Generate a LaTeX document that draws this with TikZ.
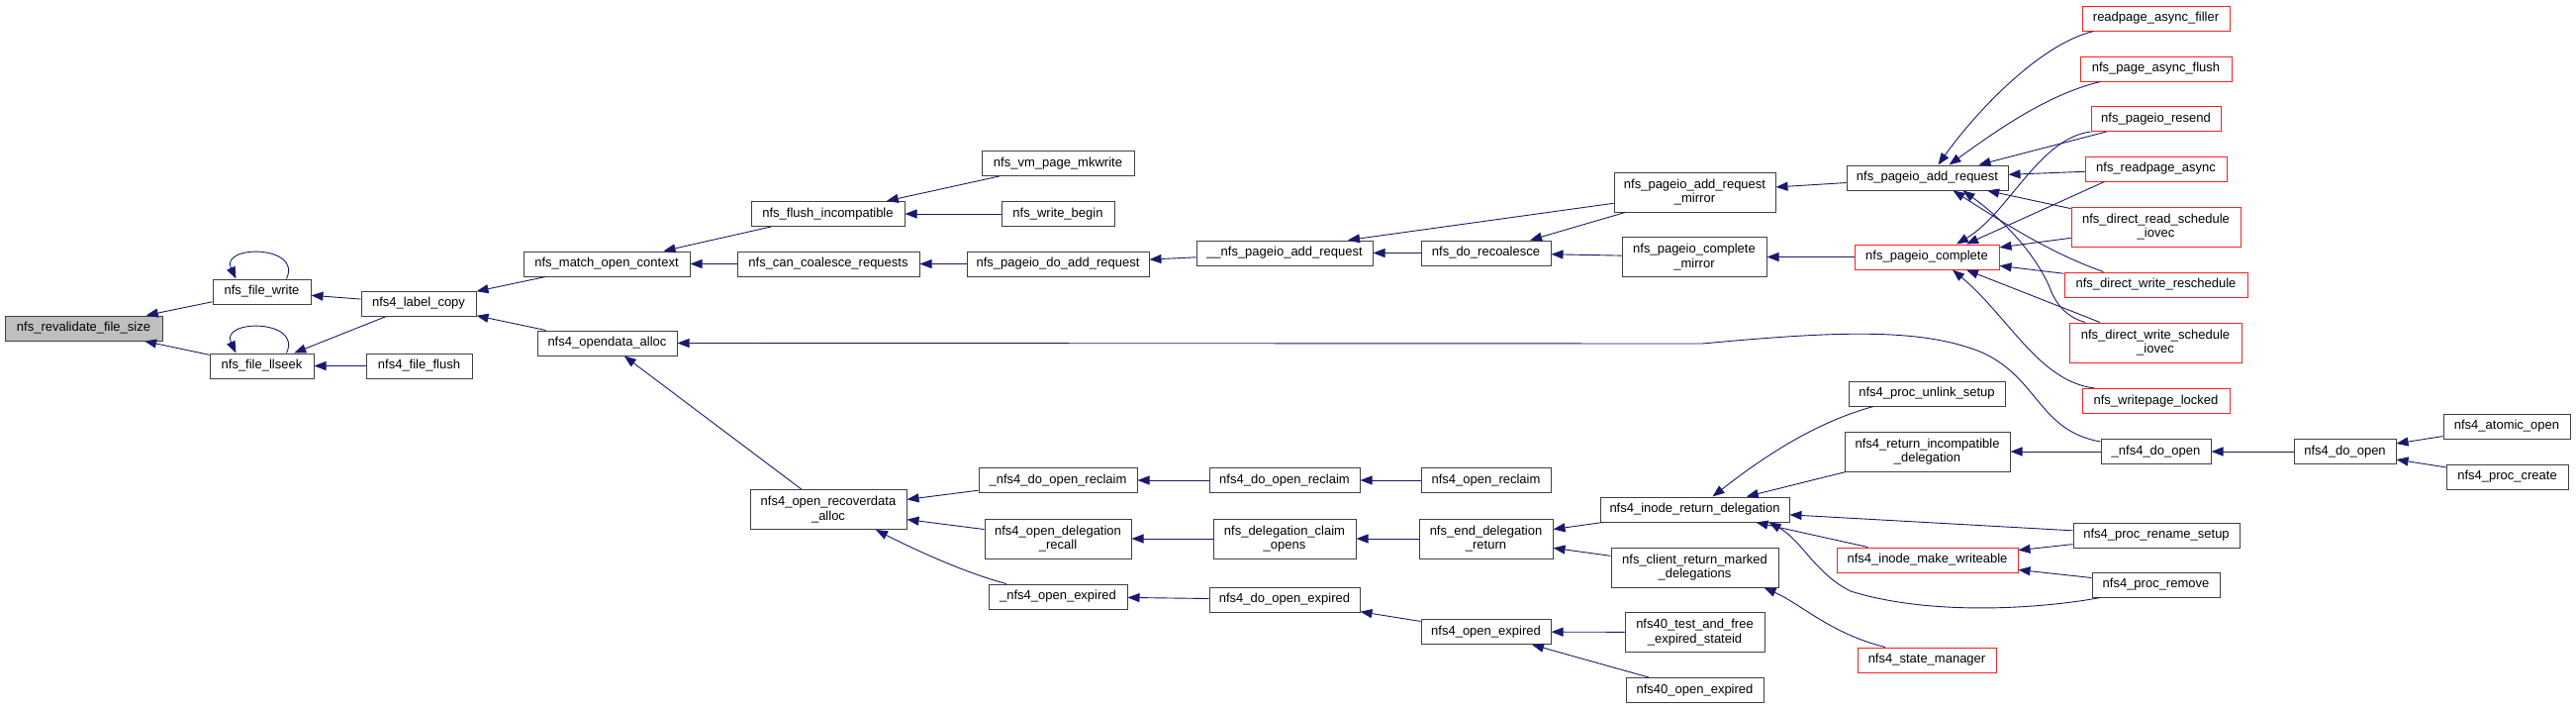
\documentclass[tikz,border=0pt]{standalone}
\usepackage{fontspec}
\usetikzlibrary{arrows.meta}
\newfontfamily\doxfont{Liberation Sans}
\definecolor{dxblue}{HTML}{191970}
\definecolor{dxgray}{HTML}{404040}
\definecolor{dxred}{HTML}{FF2020}
\definecolor{dxfill}{HTML}{BFBFBF}

\begin{document}
\begin{tikzpicture}[
  x=1pt, y=-1pt,
  fn/.style={draw=dxgray, line width=1pt, fill=white, inner sep=0pt,
             font=\doxfont\fontsize{13}{14.7}\selectfont, align=center,
             minimum height=25pt, text=black},
  fntwo/.style={fn, minimum height=40pt},
  trunc/.style={draw=dxred},
  rootfn/.style={fill=dxfill},
  call/.style={{Triangle[length=12pt,width=9pt]}-, draw=dxblue, line width=0.9pt},
]
\useasboundingbox (0,0) rectangle (2603,716);

%% Funcion analizada
\node[fn, rootfn, minimum width=159pt] (revalidate) at (84.5,331.5) {nfs\_revalidate\_file\_size};

%% Llamadores directos
\node[fn, minimum width=99pt]  (filewrite)  at (264.5,294.5) {nfs\_file\_write};
\node[fn, minimum width=105pt] (filellseek) at (264.5,369.5) {nfs\_file\_llseek};

\node[fn, minimum width=116pt] (labelcopy) at (423,306.5)   {nfs4\_label\_copy};
\node[fn, minimum width=107pt] (fileflush) at (423.5,369.5) {nfs4\_file\_flush};

\node[fn, minimum width=168pt] (matchctx) at (613,266.5)   {nfs\_match\_open\_context};
\node[fn, minimum width=141pt] (opendata) at (613.5,346.5) {nfs4\_opendata\_alloc};

\node[fn, minimum width=155pt]    (flushincompat) at (836.5,216) {nfs\_flush\_incompatible};
\node[fn, minimum width=184pt]    (cancoalesce)   at (837,266.5) {nfs\_can\_coalesce\_requests};
\node[fntwo, minimum width=158pt] (recoverdata)   at (837,514.5) {nfs4\_open\_recoverdata\\\_alloc};

\node[fn, minimum width=154pt]    (vmmkwrite)    at (1069,165)   {nfs\_vm\_page\_mkwrite};
\node[fn, minimum width=114pt]    (writebegin)   at (1069,216)   {nfs\_write\_begin};
\node[fn, minimum width=184pt]    (doaddreq)     at (1069,266.5) {nfs\_pageio\_do\_add\_request};
\node[fn, minimum width=160pt]    (doreclaimu)   at (1069,485)   {\_nfs4\_do\_open\_reclaim};
\node[fntwo, minimum width=148pt] (delegrecall)  at (1069,544)   {nfs4\_open\_delegation\\\_recall};
\node[fn, minimum width=140pt]    (openexpiredu) at (1069,602.5) {\_nfs4\_open\_expired};

\node[fn, minimum width=178pt]    (addrequ)    at (1298,255.5) {\_\_nfs\_pageio\_add\_request};
\node[fn, minimum width=152pt]    (doreclaim)  at (1298,485)   {nfs4\_do\_open\_reclaim};
\node[fntwo, minimum width=144pt] (claimopens) at (1298,544)   {nfs\_delegation\_claim\\\_opens};
\node[fn, minimum width=152pt]    (doopenexp)  at (1298,605.5) {nfs4\_do\_open\_expired};

\node[fn, minimum width=131pt]    (recoalesce)  at (1501.5,255.5) {nfs\_do\_recoalesce};
\node[fn, minimum width=131pt]    (openreclaim) at (1501.5,485)   {nfs4\_open\_reclaim};
\node[fntwo, minimum width=135pt] (enddeleg)    at (1501.5,544)   {nfs\_end\_delegation\\\_return};
\node[fn, minimum width=131pt]    (openexpired) at (1501.5,638)   {nfs4\_open\_expired};

\node[fntwo, minimum width=163pt] (addmirror)  at (1712.5,194)   {nfs\_pageio\_add\_request\\\_mirror};
\node[fntwo, minimum width=146pt] (compmirror) at (1712,259.5)   {nfs\_pageio\_complete\\\_mirror};
\node[fn, minimum width=191pt]    (inoderet)   at (1712.5,514.5) {nfs4\_inode\_return\_delegation};
\node[fntwo, minimum width=169pt] (clientret)  at (1712.5,573)   {nfs\_client\_return\_marked\\\_delegations};
\node[fntwo, minimum width=141pt] (testfree)   at (1712.5,638.5) {nfs40\_test\_and\_free\\\_expired\_stateid};
\node[fn, minimum width=139pt]    (open40)     at (1712.5,697)   {nfs40\_open\_expired};

\node[fn, minimum width=163pt]        (addreq)      at (1947.5,179.5) {nfs\_pageio\_add\_request};
\node[fn, trunc, minimum width=146pt] (complete)    at (1947,259.5)   {nfs\_pageio\_complete};
\node[fn, minimum width=158pt]        (unlinksetup) at (1947,397.5)   {nfs4\_proc\_unlink\_setup};
\node[fntwo, minimum width=167pt]     (retincompat) at (1947.5,456)   {nfs4\_return\_incompatible\\\_delegation};
\node[fn, trunc, minimum width=183pt] (makewrite)   at (1947.5,565.5) {nfs4\_inode\_make\_writeable};
\node[fn, trunc, minimum width=140pt] (statemgr)    at (1947,666.5)   {nfs4\_state\_manager};

%% Llamadores truncados (borde rojo) y resto
\node[fn, trunc, minimum width=149pt]    (filler)       at (2178.5,18.5)  {readpage\_async\_filler};
\node[fn, trunc, minimum width=153pt]    (asyncflush)   at (2178.5,69.5)  {nfs\_page\_async\_flush};
\node[fn, trunc, minimum width=131pt]    (resend)       at (2178.5,120)   {nfs\_pageio\_resend};
\node[fn, trunc, minimum width=143pt]    (readasync)    at (2178.5,170.5) {nfs\_readpage\_async};
\node[fntwo, trunc, minimum width=171pt] (readsched)    at (2178.5,229)   {nfs\_direct\_read\_schedule\\\_iovec};
\node[fn, trunc, minimum width=185pt]    (writeresched) at (2178.5,287.5) {nfs\_direct\_write\_reschedule};
\node[fntwo, trunc, minimum width=174pt] (writesched)   at (2178,346)     {nfs\_direct\_write\_schedule\\\_iovec};
\node[fn, trunc, minimum width=149pt]    (writepage)    at (2178.5,405)   {nfs\_writepage\_locked};
\node[fn, minimum width=111pt]           (doopenu)      at (2178.5,456)   {\_nfs4\_do\_open};
\node[fn, minimum width=168pt]           (renamesetup)  at (2179,540.5)   {nfs4\_proc\_rename\_setup};
\node[fn, minimum width=129pt]           (procremove)   at (2178.5,590.5) {nfs4\_proc\_remove};

\node[fn, minimum width=103pt] (doopen)     at (2369.5,456)   {nfs4\_do\_open};
\node[fn, minimum width=128pt] (atomicopen) at (2533,430.5)   {nfs4\_atomic\_open};
\node[fn, minimum width=123pt] (proccreate) at (2533.5,481.5) {nfs4\_proc\_create};

%% Llamadas (la punta queda en la funcion llamada)
\draw[call] (revalidate) -- (filewrite);
\draw[call] (revalidate) -- (filellseek);
\draw[call] ([xshift=-26pt]filewrite.north) .. controls (222,247) and (306,247) .. ([xshift=25pt]filewrite.north);
\draw[call] ([xshift=-26pt]filellseek.north) .. controls (222,322) and (306,322) .. ([xshift=25pt]filellseek.north);
\draw[call] (filewrite) -- (labelcopy);
\draw[call] (filellseek) -- (labelcopy);
\draw[call] (filellseek) -- (fileflush);

\draw[call] (labelcopy) -- (matchctx);
\draw[call] (labelcopy) -- (opendata);
\draw[call] (matchctx) -- (flushincompat);
\draw[call] (matchctx) -- (cancoalesce);
\draw[call] (opendata) -- (recoverdata);
\draw[call] (opendata.east) -- (1720,347) .. controls (1850,335) and (1940,330) .. (2003,356)
            .. controls (2060,382) and (2060,435) .. ([yshift=10pt]doopenu.west);

\draw[call] (flushincompat) -- (vmmkwrite);
\draw[call] (flushincompat) -- (writebegin);
\draw[call] (cancoalesce) -- (doaddreq);
\draw[call] (recoverdata) -- (doreclaimu);
\draw[call] (recoverdata) -- (delegrecall);
\draw[call] ([xshift=48pt]recoverdata.south) .. controls (930,558) and (980,580) .. ([xshift=-52pt]openexpiredu.north);

\draw[call] (doaddreq) -- (addrequ);
\draw[call] (doreclaimu) -- (doreclaim);
\draw[call] (delegrecall) -- (claimopens);
\draw[call] (openexpiredu) -- (doopenexp);

\draw[call] (addrequ) -- (recoalesce);
\draw[call] ([xshift=64pt]addrequ.north) -- (addmirror);
\draw[call] (doreclaim) -- (openreclaim);
\draw[call] (claimopens) -- (enddeleg);
\draw[call] (doopenexp) -- (openexpired);

\draw[call] (recoalesce) -- (addmirror);
\draw[call] (recoalesce) -- (compmirror);
\draw[call] (enddeleg) -- (inoderet);
\draw[call] (enddeleg) -- (clientret);
\draw[call] (openexpired) -- (testfree);
\draw[call] (openexpired) -- (open40);

\draw[call] (addmirror) -- (addreq);
\draw[call] (compmirror) -- (complete);
\draw[call] ([xshift=18pt]inoderet.north) .. controls (1790,455) and (1840,425) .. ([xshift=-54pt]unlinksetup.south);
\draw[call] (inoderet) -- (retincompat);
\draw[call] (inoderet) -- (renamesetup);
\draw[call] ([xshift=62pt]inoderet.south) -- ([xshift=-60pt]makewrite.north);
\draw[call] ([xshift=75pt]inoderet.south) .. controls (1820,545) and (1835,580) .. (1870,597)
            .. controls (1950,622) and (2060,615) .. ([xshift=-56pt]procremove.south);
\draw[call] ([xshift=70pt]clientret.south) .. controls (1820,610) and (1850,640) .. ([xshift=-42pt]statemgr.north);

%% nfs_pageio_add_request
\draw[call] ([xshift=11pt]addreq.north) .. controls (1995,115) and (2060,45) .. ([xshift=12pt]filler.south west);
\draw[call] ([xshift=22pt]addreq.north) .. controls (2020,130) and (2070,95) .. ([xshift=-56pt]asyncflush.south);
\draw[call] ([xshift=52pt]addreq.north) -- ([xshift=-50pt]resend.south);
\draw[call] (addreq) -- (readasync);
\draw[call] (addreq) -- (readsched);
\draw[call] ([xshift=26pt]addreq.south) .. controls (2020,222) and (2070,255) .. ([xshift=-53pt]writeresched.north);
\draw[call] ([xshift=36pt]addreq.south) .. controls (2025,222) and (2060,260) .. (2073,295)
            .. controls (2082,315) and (2095,322) .. ([xshift=-71pt]writesched.north);

%% nfs_pageio_complete
\draw[call] ([xshift=30pt]complete.north) .. controls (2030,215) and (2060,140) .. (resend.south west);
\draw[call] ([xshift=40pt]complete.north) -- ([xshift=-52pt]readasync.south);
\draw[call] (complete) -- (readsched);
\draw[call] (complete) -- (writeresched);
\draw[call] ([xshift=40pt]complete.south) -- ([xshift=-56pt]writesched.north);
\draw[call] ([xshift=26pt]complete.south) .. controls (2030,320) and (2060,385) .. ([xshift=-62pt]writepage.north);

%% nfs4_inode_make_writeable, _nfs4_do_open
\draw[call] (makewrite) -- (renamesetup);
\draw[call] (makewrite) -- (procremove);
\draw[call] (retincompat) -- (doopenu);
\draw[call] (doopenu) -- (doopen);
\draw[call] (doopen) -- (atomicopen);
\draw[call] (doopen) -- (proccreate);

\end{tikzpicture}
\end{document}
